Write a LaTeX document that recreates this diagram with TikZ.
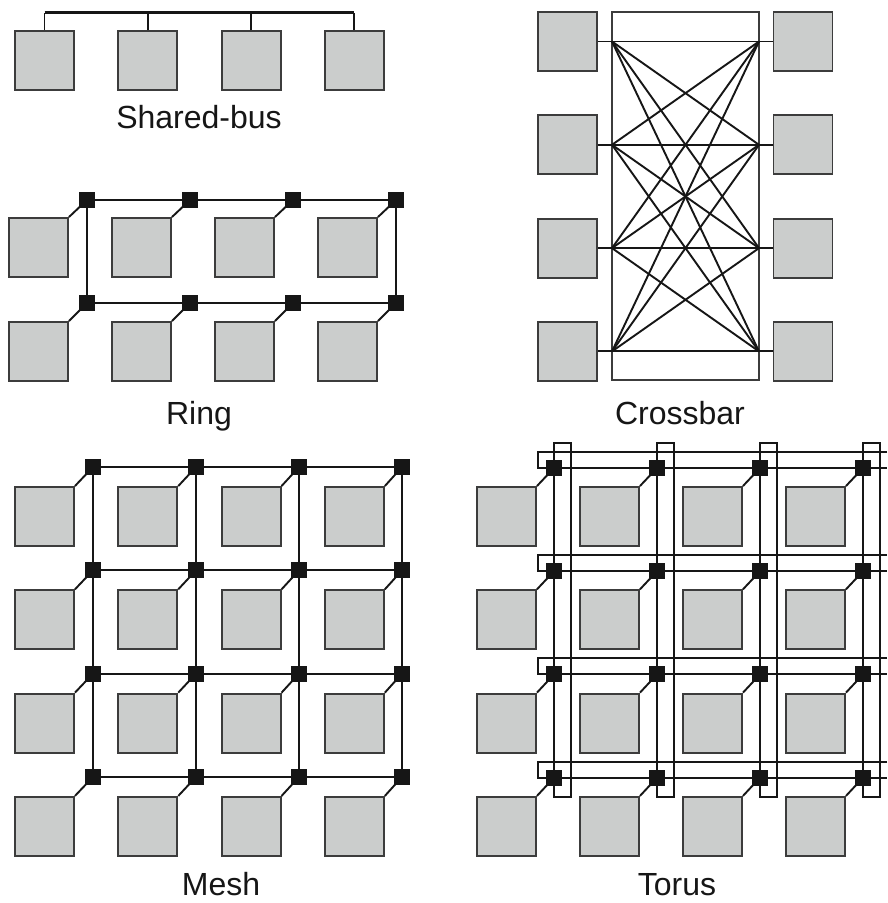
\documentclass[tikz,border=0pt]{standalone}
\usepackage{fontspec}
\setmainfont{Liberation Sans}
\usetikzlibrary{backgrounds,calc}
\definecolor{boxgray}{RGB}{203,205,204}
\definecolor{edgegray}{RGB}{60,60,60}
\definecolor{ink}{RGB}{22,22,22}
\begin{document}
\begin{tikzpicture}[x=1pt,y=-1pt,
  pe/.style={draw=edgegray,line width=1.9pt,fill=boxgray,minimum width=59pt,minimum height=59pt,inner sep=0pt},
  rt/.style={fill=ink,minimum size=16pt,inner sep=0pt},
  wire/.style={line width=1.9pt,draw=ink},
  bus/.style={line width=2.8pt,draw=ink},
  frame/.style={draw=edgegray,line width=1.7pt,inner sep=0pt},
  lbl/.style={font=\fontsize{32}{38}\selectfont,text=ink,anchor=base,inner sep=0pt}]
\useasboundingbox (0,0) rectangle (887,903);
\begin{scope}[on background layer]
  \fill[white] (0,0) rectangle (887,903);
\end{scope}

% ---------------- Shared bus ----------------
\foreach \i in {0,...,3}
  \node[pe] (sb\i) at (44.5+103.3*\i, 60.5) {};
\coordinate (busL) at (44.5,12.5);
\coordinate (busR) at (354.4,12.5);
\draw[bus] (busL) -- (busR);
\foreach \i in {0,...,3}
  \draw[wire] (sb\i.north) -- (sb\i.north |- busL);
\node[lbl] (sblbl) at (199,128) {Shared-bus};

% ---------------- Ring ----------------
\foreach \j in {0,1}
  \foreach \i in {0,...,3} {
    \node[pe] (rb\i\j) at (38.5+103*\i, 247.5+104*\j) {};
    \node[rt] (rr\i\j) at (87+103*\i, 200+103*\j) {};
  }
\begin{scope}[on background layer]
  \draw[wire] (rr00.center) -- (rr30.center) -- (rr31.center) -- (rr01.center) -- cycle;
  \foreach \j in {0,1}
    \foreach \i in {0,...,3}
      \draw[wire] (rb\i\j.north east) -- (rr\i\j.center);
\end{scope}
\node[lbl] (rglbl) at (199,424) {Ring};

% ---------------- Crossbar ----------------
\node[frame,minimum width=147pt,minimum height=368pt] (xbar) at (685.5,196) {};
\foreach \j in {0,...,3} {
  \node[pe] (cl\j) at (567.5, 41.5+103.3*\j) {};
  \node[pe] (cr\j) at (803, 41.5+103.3*\j) {};
  \coordinate (xl\j) at (612, 41.5+103.3*\j);
  \coordinate (xr\j) at (759, 41.5+103.3*\j);
}
\foreach \j in {0,...,3} {
  \draw[wire] (cl\j.east) -- (xl\j);
  \draw[wire] (xr\j) -- (cr\j.west);
}
\foreach \a in {0,...,3}
  \foreach \b in {0,...,3}
    \draw[wire] (xl\a) -- (xr\b);
\node[lbl] (cblbl) at (680,424) {Crossbar};

% ---------------- Mesh ----------------
\foreach \j in {0,...,3}
  \foreach \i in {0,...,3} {
    \node[pe] (mb\i\j) at (44.5+103.3*\i, 516.5+103.3*\j) {};
    \node[rt] (mr\i\j) at (93+103*\i, 467+103.3*\j) {};
  }
\begin{scope}[on background layer]
  \foreach \k in {0,...,3} {
    \draw[wire] (mr0\k.center) -- (mr3\k.center);
    \draw[wire] (mr\k0.center) -- (mr\k3.center);
  }
  \foreach \j in {0,...,3}
    \foreach \i in {0,...,3}
      \draw[wire] (mb\i\j.north east) -- (mr\i\j.center);
\end{scope}
\node[lbl] (mslbl) at (221,895) {Mesh};

% ---------------- Torus ----------------
\foreach \j in {0,...,3}
  \foreach \i in {0,...,3} {
    \node[pe] (tb\i\j) at (506.5+103*\i, 516.5+103.3*\j) {};
    \node[rt] (tr\i\j) at (554+103*\i, 468+103.2*\j) {};
  }
\foreach \j in {0,...,3}
  \coordinate (te\j) at (887, 468+103.2*\j);
\begin{scope}[on background layer]
  % row links with their wrap-around return path
  \foreach \j in {0,...,3} {
    \draw[wire] (tr0\j.center) -- (te\j);
    \draw[wire] (te\j) ++(0,-16) -| ($(tr0\j.center)+(-16,0)$) -- (tr0\j.center);
  }
  % column links with their wrap-around return path
  \foreach \i in {0,...,3}
    \draw[wire] ($(tr\i0.center)+(0,-25)$) rectangle ($(tr\i3.center)+(17,19)$);
  \foreach \j in {0,...,3}
    \foreach \i in {0,...,3}
      \draw[wire] (tb\i\j.north east) -- (tr\i\j.center);
\end{scope}
\node[lbl] (tslbl) at (677,895) {Torus};
\end{tikzpicture}
\end{document}
